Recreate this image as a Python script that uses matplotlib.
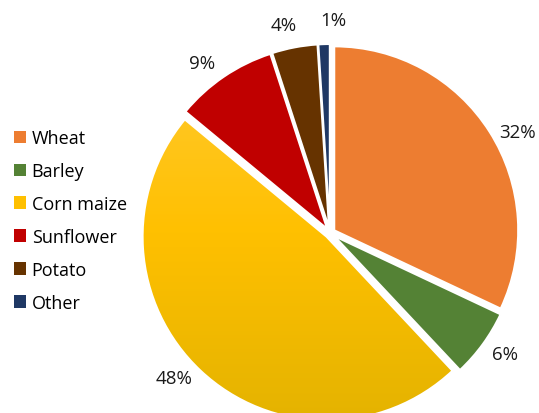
import matplotlib
matplotlib.use("Agg")
import matplotlib.pyplot as plt
import numpy as np
from matplotlib.patches import Rectangle
from matplotlib.colors import LinearSegmentedColormap

categories = ["Wheat", "Barley", "Corn maize", "Sunflower", "Potato", "Other"]
values = [32, 6, 48, 9, 4, 1]
colors = ["#ED7D31", "#548235", "#FFC000", "#C00000", "#663300", "#1F3864"]
# small angular nudges (degrees) of the percent labels, as in the reference
label_nudge = [-4.0, 1.3, -3.8, 2.7, 1.7, -2.6]

plt.rcParams['font.family'] = ['Open Sans', 'DejaVu Sans']

W, H = 539, 414
fig = plt.figure(figsize=(W / 100, H / 100), dpi=100)
ax = fig.add_axes([0, 0, 1, 1])

cx, cy, r = 330, H - 234, 184
expl = 5
pctd = 1.13
wedges, texts, autotexts = ax.pie(
    values, colors=colors, startangle=90, counterclock=False,
    explode=[expl] * len(values), center=(cx, cy), radius=r,
    autopct=lambda p: f"{p:.0f}%", pctdistance=pctd,
    textprops=dict(fontsize=13.5, color="#1a1a1a"),
    wedgeprops=dict(linewidth=1.5, edgecolor="white"))

# nudge labels along the circle
for w, t, d in zip(wedges, autotexts, label_nudge):
    mid = np.deg2rad((w.theta1 + w.theta2) / 2 + d)
    rr = pctd * r + expl
    t.set_position((cx + rr * np.cos(mid), cy + rr * np.sin(mid)))

# gradient for corn maize
corn = wedges[2]
corn.set_facecolor("none")
cmap = LinearSegmentedColormap.from_list("corn", ["#FFCB38", "#FFC000", "#E2B200"])
grad = np.linspace(0, 1, 256).reshape(-1, 1)
im = ax.imshow(grad, cmap=cmap, extent=(cx - r - 20, cx + r + 20, cy - r - 20, cy + r + 20),
               origin="upper", aspect="auto", zorder=corn.get_zorder() - 0.01)
im.set_clip_path(corn)

ax.set_xlim(0, W)
ax.set_ylim(0, H)
ax.set_aspect("equal")
ax.axis("off")

handles = [Rectangle((0, 0), 1, 1, facecolor=c, edgecolor="none") for c in colors]
fig.legend(handles, categories, loc="center left", bbox_to_anchor=(0.012, 0.465),
           frameon=False, fontsize=13, handlelength=0.7, handleheight=0.7,
           handletextpad=0.3, labelspacing=0.82, borderaxespad=0)

fig.savefig("out.png", dpi=100)
